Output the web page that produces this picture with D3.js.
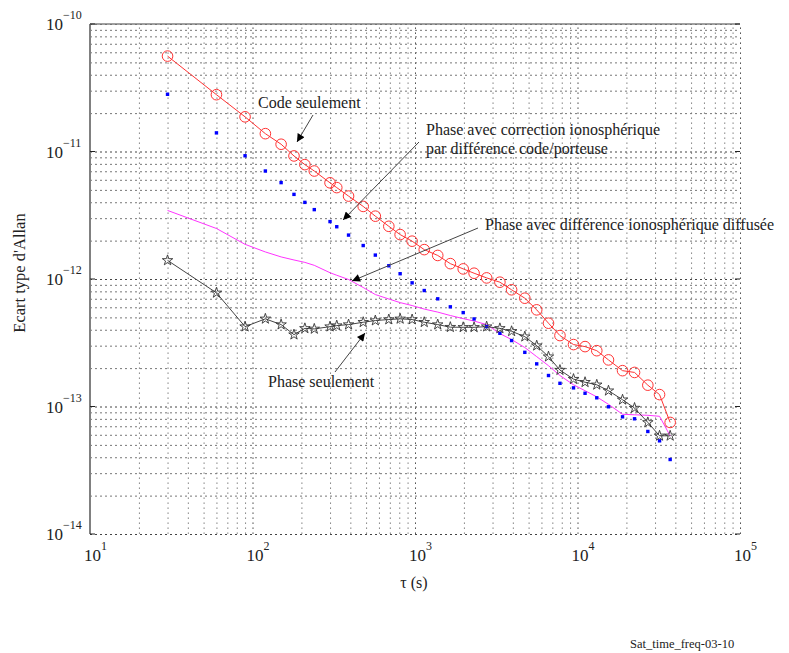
<!DOCTYPE html>
<html>
<head>
<meta charset="utf-8">
<script src="https://cdn.jsdelivr.net/npm/d3@7"></script>
<style>
  body { margin: 0; background: #fff; }
  svg { display: block; }
  text { font-family: "Liberation Serif", "Times New Roman", serif; fill: #222; }
</style>
</head>
<body>
<svg id="chart" width="789" height="653"></svg>
<script>
// ---- data ----
const tau = [30, 60, 90, 120, 150, 180, 210, 240, 300, 330, 390, 480, 570, 690, 810, 960,
  1140, 1380, 1650, 1980, 2310, 2760, 3330, 3930, 4740, 5610, 6630, 7800, 9450, 11130,
  13140, 15510, 18930, 22440, 27090, 31980, 37170];

const codeOnly = [5.60e-11, 2.79e-11, 1.87e-11, 1.38e-11, 1.14e-11, 9.23e-12, 7.89e-12, 7.03e-12,
  5.68e-12, 5.21e-12, 4.47e-12, 3.71e-12, 3.11e-12, 2.59e-12, 2.23e-12, 1.98e-12,
  1.70e-12, 1.53e-12, 1.32e-12, 1.20e-12, 1.11e-12, 1.02e-12, 9.44e-13, 8.23e-13, 7.07e-13,
  5.73e-13, 4.50e-13, 3.60e-13, 3.06e-13, 2.95e-13, 2.74e-13, 2.32e-13, 1.91e-13, 1.85e-13,
  1.47e-13, 1.24e-13, 7.5e-14];

const phaseCodeCorr = [2.81e-11, 1.40e-11, 9.26e-12, 7.03e-12, 5.70e-12, 4.61e-12, 3.99e-12, 3.50e-12,
  2.82e-12, 2.57e-12, 2.21e-12, 1.83e-12, 1.54e-12, 1.27e-12, 1.10e-12, 9.33e-13,
  8.12e-13, 6.99e-13, 6.05e-13, 5.45e-13, 4.86e-13, 4.23e-13, 3.75e-13, 3.29e-13, 2.66e-13,
  2.16e-13, 1.75e-13, 1.52e-13, 1.40e-13, 1.27e-13, 1.17e-13, 9.95e-14, 8.30e-14, 8.01e-14,
  6.37e-14, 5.38e-14, 3.84e-14];

const phaseIonoDiff = [3.45e-12, 2.49e-12, 1.87e-12, 1.63e-12, 1.49e-12, 1.41e-12, 1.35e-12, 1.28e-12,
  1.12e-12, 1.07e-12, 9.91e-13, 8.58e-13, 7.55e-13, 6.97e-13, 6.53e-13, 6.19e-13,
  5.81e-13, 5.50e-13, 5.17e-13, 4.89e-13, 4.68e-13, 4.39e-13, 3.73e-13, 3.35e-13, 2.90e-13,
  2.46e-13, 2.09e-13, 1.75e-13, 1.48e-13, 1.33e-13, 1.19e-13, 1.04e-13, 8.69e-14, 8.61e-14,
  8.53e-14, 8.38e-14, 5.89e-14];

const phaseOnly = [1.40e-12, 7.79e-13, 4.23e-13, 4.87e-13, 4.39e-13, 3.66e-13, 4.10e-13, 4.06e-13,
  4.23e-13, 4.31e-13, 4.39e-13, 4.58e-13, 4.72e-13, 4.81e-13, 4.87e-13, 4.81e-13,
  4.58e-13, 4.39e-13, 4.19e-13, 4.18e-13, 4.18e-13, 4.23e-13, 4.10e-13, 3.89e-13, 3.53e-13,
  3.00e-13, 2.46e-13, 1.93e-13, 1.64e-13, 1.55e-13, 1.48e-13, 1.33e-13, 1.13e-13, 9.73e-14,
  7.50e-14, 5.89e-14, 5.89e-14];

const xTickExps = [1, 2, 3, 4, 5];
const yTickExps = [-10, -11, -12, -13, -14];

const labels = {
  yTitle: "Ecart type d'Allan",
  xTitle: "\u03c4 (s)",
  footer: "Sat_time_freq-03-10",
  code: "Code seulement",
  corr1: "Phase avec correction ionosph\u00e9rique",
  corr2: "par diff\u00e9rence code/porteuse",
  diff: "Phase avec diff\u00e9rence ionosph\u00e9rique diffus\u00e9e",
  phase: "Phase seulement"
};

// ---- layout ----
const svg = d3.select("#chart");
const L = 90, R = 740, T = 24, B = 534;
const x = d3.scaleLog().domain([10, 1e5]).range([L, R]);
const y = d3.scaleLog().domain([1e-14, 1e-10]).range([B, T]);

// grid
const xAll = x.ticks(); // 10,20,...,1e5
const yAll = y.ticks();
const isMajor = v => Math.abs(Math.log10(v) - Math.round(Math.log10(v))) < 1e-9;

const gGrid = svg.append("g");
gGrid.append("g")
  .attr("transform", `translate(0,${B})`)
  .call(d3.axisBottom(x).tickValues(xAll).tickSize(-(B - T)).tickFormat(""))
  .call(g => g.select(".domain").remove())
  .call(g => g.selectAll(".tick line")
    .attr("stroke", d => isMajor(d) ? "#555" : "#8a8a8a")
    .attr("stroke-width", 1)
    .attr("stroke-dasharray", "1.6,3.4"));
gGrid.append("g")
  .attr("transform", `translate(${L},0)`)
  .call(d3.axisLeft(y).tickValues(yAll).tickSize(-(R - L)).tickFormat(""))
  .call(g => g.select(".domain").remove())
  .call(g => g.selectAll(".tick line")
    .attr("stroke", d => isMajor(d) ? "#444" : "#777")
    .attr("stroke-width", 1)
    .attr("stroke-dasharray", "2,3"));

// frame: left axis line and top line
svg.append("line").attr("x1", L).attr("x2", L).attr("y1", T).attr("y2", B)
  .attr("stroke", "#808080").attr("stroke-width", 2);
svg.append("line").attr("x1", L).attr("x2", R).attr("y1", T).attr("y2", T)
  .attr("stroke", "#808080").attr("stroke-width", 1.3);
// major ticks
yTickExps.forEach(e => {
  const yy = y(Math.pow(10, e));
  svg.append("line").attr("x1", L).attr("x2", L + 5).attr("y1", yy).attr("y2", yy)
    .attr("stroke", "#222").attr("stroke-width", 1);
  svg.append("line").attr("x1", R - 5).attr("x2", R).attr("y1", yy).attr("y2", yy)
    .attr("stroke", "#222").attr("stroke-width", 1);
});

// tick labels
xTickExps.forEach(e => {
  const t = svg.append("text").attr("x", x(Math.pow(10, e)) - 6).attr("y", 561)
    .attr("font-size", 17);
  t.append("tspan").text("10");
  t.append("tspan").attr("dy", -11).attr("font-size", 12).text(String(e));
});
yTickExps.forEach(e => {
  const t = svg.append("text").attr("x", 46).attr("y", y(Math.pow(10, e)) + 6)
    .attr("font-size", 17);
  t.append("tspan").text("10");
  t.append("tspan").attr("dy", -11).attr("font-size", 12).text("\u2212" + String(-e));
});

// titles
svg.append("text").attr("transform", `translate(25,${273}) rotate(-90)`)
  .attr("text-anchor", "middle").attr("font-size", 16.5).text(labels.yTitle);
svg.append("text").attr("x", 414).attr("y", 588).attr("text-anchor", "middle")
  .attr("font-size", 16).text(labels.xTitle);
svg.append("text").attr("x", 630).attr("y", 648).attr("font-size", 12.5).text(labels.footer);

// ---- series ----
const pts = vals => tau.map((t, i) => [t, vals[i]]);
const line = d3.line().x(d => x(d[0])).y(d => y(d[1]));
const gData = svg.append("g");

// magenta line
gData.append("path").datum(pts(phaseIonoDiff)).attr("d", line)
  .attr("fill", "none").attr("stroke", "#ff33ff").attr("stroke-width", 1);

// blue dots
gData.selectAll("rect.b").data(pts(phaseCodeCorr)).join("rect")
  .attr("x", d => x(d[0]) - 1.7).attr("y", d => y(d[1]) - 1.7)
  .attr("width", 3.4).attr("height", 3.4).attr("fill", "#0000ff");

// stars
gData.append("path").datum(pts(phaseOnly)).attr("d", line)
  .attr("fill", "none").attr("stroke", "#444").attr("stroke-width", 1);
const star = d3.symbol().type(d3.symbolStar).size(34);
gData.selectAll("path.s").data(pts(phaseOnly)).join("path")
  .attr("transform", d => `translate(${x(d[0])},${y(d[1])})`)
  .attr("d", star).attr("fill", "none").attr("stroke", "#333").attr("stroke-width", 0.9);

// red circles
gData.append("path").datum(pts(codeOnly)).attr("d", line)
  .attr("fill", "none").attr("stroke", "#ff3333").attr("stroke-width", 1);
gData.selectAll("circle.r").data(pts(codeOnly)).join("circle")
  .attr("cx", d => x(d[0])).attr("cy", d => y(d[1])).attr("r", 5.3)
  .attr("fill", "none").attr("stroke", "#ff3333").attr("stroke-width", 1);

// ---- annotations ----
const defs = svg.append("defs");
defs.append("marker").attr("id", "ah").attr("viewBox", "0 0 10 10")
  .attr("refX", 10).attr("refY", 5).attr("markerWidth", 11).attr("markerHeight", 8)
  .attr("markerUnits", "userSpaceOnUse").attr("orient", "auto")
  .append("path").attr("d", "M0,0 L10,5 L0,10 Z").attr("fill", "#000");

const ann = [
  { lines: [labels.code], tx: 258, ty: 108, from: [313, 115], to: [297, 142] },
  { lines: [labels.corr1, labels.corr2], tx: 426, ty: 135, from: [419, 142], to: [343, 220] },
  { lines: [labels.diff], tx: 485, ty: 230, from: [478, 228], to: [352, 281] },
  { lines: [labels.phase], tx: 268, ty: 387, from: [335, 372], to: [365, 333] }
];
ann.forEach(a => {
  svg.append("line").attr("x1", a.from[0]).attr("y1", a.from[1])
    .attr("x2", a.to[0]).attr("y2", a.to[1])
    .attr("stroke", "#444").attr("stroke-width", 1).attr("marker-end", "url(#ah)");
  a.lines.forEach((s, i) => {
    svg.append("text").attr("x", a.tx).attr("y", a.ty + i * 18.5)
      .attr("font-size", 16).text(s);
  });
});
</script>
</body>
</html>
